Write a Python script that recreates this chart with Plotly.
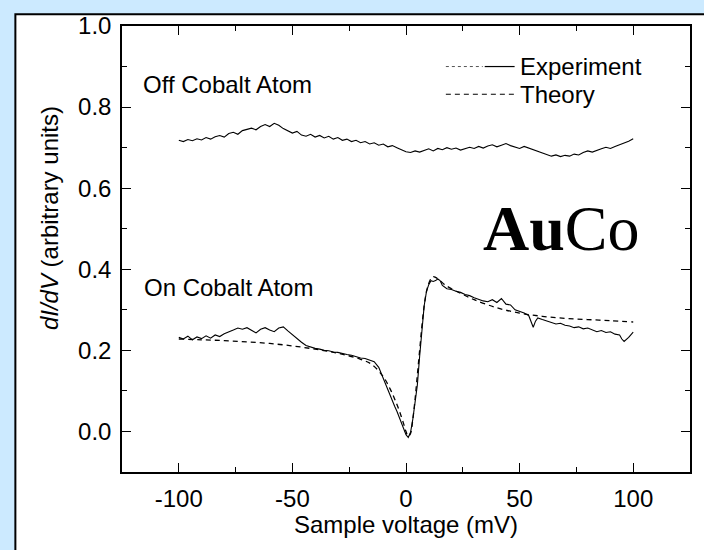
import plotly.graph_objects as go

# ---------------- data ----------------
off_v = list(range(-100, 101, 2))
off_didv = [0.718, 0.715, 0.720, 0.717, 0.722, 0.719, 0.725, 0.721, 0.727, 0.730,
            0.726, 0.735, 0.738, 0.733, 0.742, 0.745, 0.748, 0.744, 0.752, 0.757,
            0.752, 0.760, 0.755, 0.747, 0.742, 0.736, 0.740, 0.731, 0.728, 0.733,
            0.726, 0.730, 0.724, 0.728, 0.721, 0.725, 0.718, 0.721, 0.715, 0.718,
            0.712, 0.715, 0.709, 0.712, 0.706, 0.709, 0.702, 0.705, 0.700, 0.695,
            0.690, 0.688, 0.692, 0.689, 0.694, 0.697, 0.692, 0.698, 0.695, 0.700,
            0.696, 0.699, 0.694, 0.697, 0.701, 0.698, 0.703, 0.699, 0.704, 0.707,
            0.702, 0.706, 0.710, 0.705, 0.702, 0.698, 0.703, 0.699, 0.694, 0.690,
            0.686, 0.683, 0.679, 0.682, 0.678, 0.681, 0.679, 0.684, 0.682, 0.688,
            0.692, 0.689, 0.694, 0.697, 0.701, 0.698, 0.703, 0.707, 0.711, 0.716,
            0.722]

on_v = [-100, -98, -96, -94, -92, -90, -88, -86, -84, -82, -80, -78, -76, -74, -72,
        -70, -68, -66, -64, -62, -60, -58, -56, -54, -52, -50, -48, -46, -44, -42,
        -40, -38, -36, -34, -32, -30, -28, -26, -24, -22, -20, -18, -16, -14, -12,
        -10, -9, -8, -7, -6, -5, -4, -3, -2, -1, 0, 1, 2, 3, 4, 5, 6, 7, 8, 9, 10,
        11, 12, 13, 14, 15, 16, 18, 20, 22, 24, 26, 28, 30, 32, 34, 36, 38, 40, 42,
        44, 46, 48, 50, 52, 54, 55, 56, 57, 58, 60, 62, 64, 66, 68, 70, 72, 74, 76,
        78, 80, 82, 84, 86, 88, 90, 92, 94, 95, 96, 97, 98, 100]
on_didv = [0.232, 0.228, 0.235, 0.226, 0.233, 0.229, 0.236, 0.230, 0.238, 0.234,
           0.241, 0.245, 0.250, 0.255, 0.252, 0.256, 0.250, 0.243, 0.252, 0.256,
           0.250, 0.246, 0.255, 0.258, 0.248, 0.238, 0.228, 0.220, 0.212, 0.208,
           0.205, 0.203, 0.200, 0.199, 0.196, 0.195, 0.192, 0.190, 0.188, 0.185,
           0.181, 0.180, 0.176, 0.172, 0.158, 0.130, 0.115, 0.100, 0.088, 0.075,
           0.062, 0.050, 0.036, 0.020, 0.005, -0.008, -0.015, -0.002, 0.030, 0.070,
           0.115, 0.185, 0.255, 0.310, 0.345, 0.362, 0.372, 0.370, 0.372, 0.376,
           0.372, 0.360, 0.352, 0.350, 0.346, 0.343, 0.338, 0.335, 0.330, 0.326,
           0.322, 0.320, 0.325, 0.318, 0.328, 0.314, 0.312, 0.300, 0.296, 0.292,
           0.286, 0.270, 0.257, 0.272, 0.280, 0.276, 0.272, 0.268, 0.265, 0.267,
           0.262, 0.260, 0.256, 0.258, 0.253, 0.255, 0.250, 0.246, 0.249, 0.244,
           0.246, 0.240, 0.238, 0.228, 0.222, 0.226, 0.232, 0.245]

theory_v = [-100, -90, -80, -70, -60, -50, -40, -30, -20, -15, -10, -7, -5, -3, -1,
            0, 1, 2, 3, 4, 5, 6, 7, 8, 9, 10, 11, 12, 13, 15, 17, 20, 25, 30, 40,
            50, 60, 70, 80, 90, 100]
theory_didv = [0.228, 0.226, 0.224, 0.221, 0.217, 0.211, 0.203, 0.193, 0.178, 0.165,
               0.135, 0.105, 0.080, 0.052, 0.018, 0.000, -0.012, -0.005, 0.030, 0.080,
               0.140, 0.200, 0.260, 0.310, 0.345, 0.365, 0.377, 0.382, 0.380, 0.372,
               0.362, 0.352, 0.338, 0.325, 0.305, 0.292, 0.284, 0.279, 0.276, 0.273,
               0.270]

x_ticks = [-100, -50, 0, 50, 100]
y_ticks = [0.0, 0.2, 0.4, 0.6, 0.8, 1.0]

# ---------------- layout helpers (pixel -> paper) ----------------
L, R, T, B = 122, 692, 21, 472
def px(x):
    return (x - L) / (R - L)
def py(y):
    return (B - y) / (B - T)

FONT = "Liberation Sans, Arial, sans-serif"
FS = 24
fig = go.Figure()
fig.add_trace(go.Scatter(x=off_v, y=off_didv, mode="lines",
                         line=dict(color="black", width=1.1), showlegend=False))
fig.add_trace(go.Scatter(x=on_v, y=on_didv, mode="lines",
                         line=dict(color="black", width=1.1), showlegend=False))
fig.add_trace(go.Scatter(x=theory_v, y=theory_didv, mode="lines",
                         line=dict(color="black", width=1.3, dash="5px,4px", shape="spline"),
                         showlegend=False))

axis_common = dict(showgrid=False, zeroline=False, showline=True, linecolor="black",
                   linewidth=1.5, mirror="allticks", ticks="inside", ticklen=9,
                   tickcolor="black", tickwidth=1.3,
                   tickfont=dict(family=FONT, size=FS, color="black"))
fig.update_xaxes(range=[-125, 125], tickvals=x_ticks, ticktext=[str(v) for v in x_ticks],
                 minor=dict(dtick=25, tick0=0, ticks="inside", ticklen=5, tickcolor="black"),
                 ticklabelstandoff=4, **axis_common)
fig.update_yaxes(range=[-0.1, 1.0], tickvals=y_ticks, ticktext=[f"{v:.1f}" for v in y_ticks],
                 minor=dict(dtick=0.1, tick0=0, ticks="inside", ticklen=5, tickcolor="black"),
                 ticklabelstandoff=4, **axis_common)

shapes = [
    # outer white panel
    dict(type="rect", xref="paper", yref="paper", x0=px(15), x1=px(720), y0=py(560), y1=py(9),
         fillcolor="white", line=dict(color="black", width=2), layer="below"),
    # legend samples
    dict(type="line", xref="paper", yref="paper", x0=px(447), x1=px(484), y0=py(62), y1=py(62),
         line=dict(color="#555555", width=1, dash="dot")),
    dict(type="line", xref="paper", yref="paper", x0=px(486), x1=px(516), y0=py(62), y1=py(62),
         line=dict(color="black", width=1.2)),
    dict(type="line", xref="paper", yref="paper", x0=px(447), x1=px(516), y0=py(90), y1=py(90),
         line=dict(color="black", width=1.2, dash="5px,4px")),
]

annotations = [
    dict(text="Experiment", x=px(519), y=py(62), xanchor="left", yanchor="middle"),
    dict(text="Theory", x=px(519), y=py(90), xanchor="left", yanchor="middle"),
    dict(text="Off Cobalt Atom", x=px(141), y=py(80), xanchor="left", yanchor="middle"),
    dict(text="On Cobalt Atom", x=px(142), y=py(285), xanchor="left", yanchor="middle"),
    dict(text="<i>dI/dV</i> (arbitrary units)", x=px(50), y=py(215), textangle=-90,
         xanchor="center", yanchor="middle"),
    dict(text="Sample voltage (mV)", x=px(407), y=py(525), xanchor="center", yanchor="middle"),
]
for a in annotations:
    a.update(xref="paper", yref="paper", showarrow=False,
             font=dict(family=FONT, size=FS, color="black"))
annotations.append(dict(text="<b>Au</b>Co", x=px(563), y=py(226), xref="paper", yref="paper",
                        showarrow=False, xanchor="center", yanchor="middle",
                        font=dict(family="Liberation Serif, Times New Roman, serif", size=64,
                                  color="black")))

fig.update_layout(width=704, height=550, margin=dict(l=L, r=704 - R, t=T, b=550 - B),
                  paper_bgcolor="#cceaff", plot_bgcolor="white",
                  shapes=shapes, annotations=annotations, showlegend=False)

fig.write_html("out.html")
